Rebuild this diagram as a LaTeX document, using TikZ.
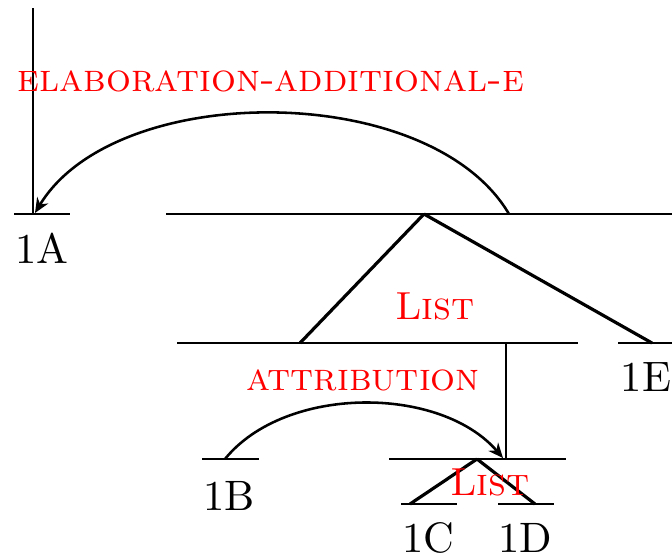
\documentclass[tikz,border=0pt]{standalone}
\usepackage{tikz}
\usetikzlibrary{arrows.meta}

\begin{document}
\begin{tikzpicture}[
    x=0.235pt, y=-0.235pt,
    bar/.style={line width=0.5pt},
    branch/.style={line width=0.75pt},
    rel/.style={line width=0.6pt, -{Stealth[length=3.5pt,width=3pt]}},
    leaf/.style={inner sep=0pt, font=\normalsize},
    rlab/.style={inner sep=0pt, text=red, font=\fontsize{9.2pt}{11pt}\selectfont}
  ]
  \useasboundingbox (0,0) rectangle (672,555);

  % Top row
  \coordinate (r0) at (33,8);
  \coordinate (a1) at (14,214);  \coordinate (a2) at (70,214);
  \coordinate (t1) at (166,214); \coordinate (t2) at (672,214);
  \coordinate (ta) at (424,214); \coordinate (ts) at (509,214);
  \coordinate (ae) at (35,213);
  \node[leaf] (n1A) at (42,248) {1A};

  % Middle row
  \coordinate (m1) at (177,343); \coordinate (m2) at (578,343);
  \coordinate (mc) at (300,343); \coordinate (mv) at (506,343);
  \coordinate (e1) at (618,343); \coordinate (e2) at (672,343);
  \coordinate (ec) at (652,343);
  \node[leaf] (n1E) at (646,377) {1E};

  % Bottom row
  \coordinate (b1) at (202,459); \coordinate (b2) at (259,459);
  \coordinate (bs) at (225,459);
  \coordinate (l1) at (389,459); \coordinate (l2) at (566,459);
  \coordinate (la) at (477,459); \coordinate (lv) at (506,459);
  \coordinate (le) at (503,458);
  \node[leaf] (n1B) at (229,496) {1B};

  % Leaves
  \coordinate (c1) at (401,504); \coordinate (c2) at (457,504);
  \coordinate (cc) at (410,504);
  \coordinate (d1) at (498,504); \coordinate (d2) at (554,504);
  \coordinate (dc) at (535,504);
  \node[leaf] (n1C) at (428,538) {1C};
  \node[leaf] (n1D) at (525,538) {1D};

  % Bars
  \draw[bar] (a1) -- (a2);
  \draw[bar] (t1) -- (t2);
  \draw[bar] (m1) -- (m2);
  \draw[bar] (e1) -- (e2);
  \draw[bar] (b1) -- (b2);
  \draw[bar] (l1) -- (l2);
  \draw[bar] (c1) -- (c2);
  \draw[bar] (d1) -- (d2);

  % Branches
  \draw[bar] (r0) -- (33,214);
  \draw[branch] (ta) -- (mc);
  \draw[branch] (ta) -- (ec);
  \draw[bar] (mv) -- (lv);
  \draw[branch] (la) -- (cc);
  \draw[branch] (la) -- (dc);

  % Relations
  \draw[rel] (ts) .. controls (430,80) and (115,80) .. (ae);
  \draw[rel] (bs) .. controls (285,385) and (440,385) .. (le);

  % Relation labels
  \node[rlab] (elab) at (271,81)  {\textsc{elaboration-additional-e}};
  \node[rlab] (lst1) at (435,306) {\textsc{List}};
  \node[rlab] (attr) at (363,380) {\textsc{attribution}};
  \node[rlab] (lst2) at (490,482) {\textsc{List}};
\end{tikzpicture}
\end{document}
